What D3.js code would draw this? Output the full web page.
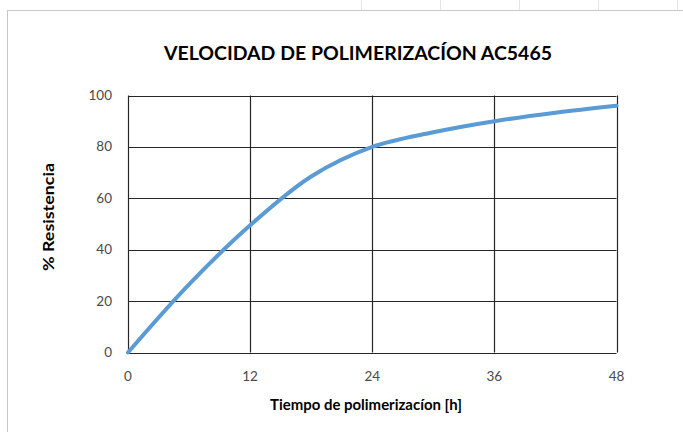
<!DOCTYPE html>
<html>
<head>
<meta charset="utf-8">
<script src="https://cdn.jsdelivr.net/npm/d3@7"></script>
<style>
body { margin: 0; background: #fff; }
text { font-family: Lato, "Open Sans", sans-serif; }
</style>
</head>
<body>
<script>
// data
var horas = [0, 6, 12, 18, 24, 30, 36, 42, 48];
var resistencia = [0, 26.5, 49.5, 68.5, 80, 85.7, 90, 93.3, 96];
var xTicks = [0, 12, 24, 36, 48];
var yTicks = [0, 20, 40, 60, 80, 100];

var svg = d3.select('body').append('svg')
    .attr('width', 683)
    .attr('height', 432);

// sheet frame
svg.append('line').attr('x1', 7).attr('x2', 683).attr('y1', 10.5).attr('y2', 10.5)
    .attr('stroke', '#c8c8c8');
svg.append('line').attr('x1', 7.5).attr('x2', 7.5).attr('y1', 10).attr('y2', 432)
    .attr('stroke', '#c8c8c8');
[361, 440, 519, 598, 677].forEach(function (x) {
    svg.append('line').attr('x1', x + 0.5).attr('x2', x + 0.5).attr('y1', 0).attr('y2', 10)
        .attr('stroke', '#e4e4e4');
});

var x = d3.scaleLinear().domain([0, 48]).range([128, 616.5]);
var y = d3.scaleLinear().domain([0, 100]).range([352.5, 95.5]);

// grid
svg.selectAll('.gy').data(yTicks).enter().append('line')
    .attr('x1', x(0)).attr('x2', x(48))
    .attr('y1', function (d) { return Math.round(y(d)) + 0.5; })
    .attr('y2', function (d) { return Math.round(y(d)) + 0.5; })
    .attr('stroke', '#262626').attr('stroke-width', 1.2);
svg.selectAll('.gx').data(xTicks).enter().append('line')
    .attr('y1', y(0)).attr('y2', y(100))
    .attr('x1', function (d) { return Math.round(x(d)) + 0.5; })
    .attr('x2', function (d) { return Math.round(x(d)) + 0.5; })
    .attr('stroke', '#262626').attr('stroke-width', 1.2);

// tick labels
svg.selectAll('.ly').data(yTicks).enter().append('text')
    .attr('x', 112).attr('y', function (d) { return y(d) + 4.5; })
    .attr('text-anchor', 'end')
    .attr('font-size', 13.5).attr('fill', '#4a4a4a')
    .text(function (d) { return d; });
svg.selectAll('.lx').data(xTicks).enter().append('text')
    .attr('x', function (d) { return x(d); }).attr('y', 381)
    .attr('text-anchor', 'middle')
    .attr('font-size', 13.5).attr('fill', '#4a4a4a')
    .text(function (d) { return d; });

// curve
var line = d3.line()
    .x(function (d, i) { return x(horas[i]); })
    .y(function (d) { return y(d); })
    .curve(d3.curveCatmullRom);
svg.append('path').datum(resistencia)
    .attr('d', line)
    .attr('fill', 'none')
    .attr('stroke', '#5b9bd5')
    .attr('stroke-width', 4)
    .attr('stroke-linecap', 'round');

// titles
svg.append('text').attr('x', 358).attr('y', 60)
    .attr('text-anchor', 'middle')
    .attr('font-size', 19).attr('font-weight', 'bold').attr('fill', '#000')
    .attr('textLength', 388).attr('lengthAdjust', 'spacingAndGlyphs')
    .text('VELOCIDAD DE POLIMERIZACÍON AC5465');
svg.append('text').attr('x', 366).attr('y', 410)
    .attr('text-anchor', 'middle')
    .attr('font-size', 15.5).attr('font-weight', 'bold')
    .attr('textLength', 192).attr('lengthAdjust', 'spacingAndGlyphs')
    .text('Tiempo de polimerizacíon [h]');
svg.append('text')
    .attr('transform', 'translate(54,217) rotate(-90)')
    .attr('text-anchor', 'middle')
    .attr('font-size', 15).attr('font-weight', 'bold')
    .attr('textLength', 108).attr('lengthAdjust', 'spacingAndGlyphs')
    .text('% Resistencia');
</script>
</body>
</html>
